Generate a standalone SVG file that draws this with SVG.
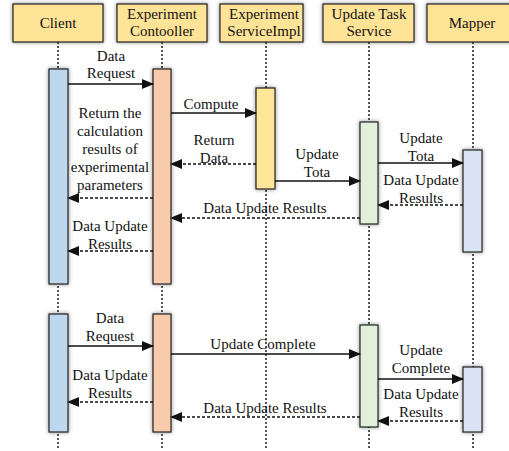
<svg xmlns="http://www.w3.org/2000/svg" width="509" height="451" viewBox="0 0 509 451">
<style>
text{font-family:"Liberation Serif","Times New Roman",serif;font-size:15px;fill:#111;text-anchor:middle}
.hd{fill:#FFE497;stroke:#222;stroke-width:1.2}
.life{stroke:#111;stroke-width:1.4;stroke-dasharray:2 2;fill:none}
.bar{stroke:#222;stroke-width:1.2}
.sol{stroke:#111;stroke-width:1.6;fill:none;marker-end:url(#ah)}
.dsh{stroke:#111;stroke-width:1.6;stroke-dasharray:3 2;fill:none;marker-end:url(#ah)}
</style>
<defs>
<filter id="sh" x="-30%" y="-30%" width="160%" height="160%">
<feDropShadow dx="0" dy="0" stdDeviation="2" flood-color="#000" flood-opacity="0.45"/>
</filter>
<marker id="ah" markerWidth="12" markerHeight="10" refX="11" refY="5" orient="auto" markerUnits="userSpaceOnUse">
<path d="M0,0 L12,5 L0,10 Z" fill="#111"/>
</marker>
</defs>
<rect width="509" height="451" fill="#fff"/>
<g id="lifelines">
<line class="life" x1="58" y1="42" x2="58" y2="450"/>
<line class="life" x1="162" y1="42" x2="162" y2="450"/>
<line class="life" x1="266" y1="42" x2="266" y2="450"/>
<line class="life" x1="369" y1="42" x2="369" y2="450"/>
<line class="life" x1="473" y1="42" x2="473" y2="450"/>
</g>
<g id="client">
<rect class="hd" x="13" y="4" width="90" height="38" filter="url(#sh)"/>
<text x="58" y="28">Client</text>
<rect class="bar" x="49" y="69" width="19" height="215" fill="#BDD7EE" filter="url(#sh)"/>
<rect class="bar" x="49" y="314" width="19" height="118" fill="#BDD7EE" filter="url(#sh)"/>
</g>
<g id="controller">
<rect class="hd" x="117" y="4" width="90" height="38" filter="url(#sh)"/>
<text x="162" y="19">Experiment</text>
<text x="162" y="36">Contooller</text>
<rect class="bar" x="153" y="69" width="18" height="215" fill="#F8CBAD" filter="url(#sh)"/>
<rect class="bar" x="153" y="314" width="18" height="118" fill="#F8CBAD" filter="url(#sh)"/>
</g>
<g id="serviceimpl">
<rect class="hd" x="220" y="4" width="83" height="38" filter="url(#sh)"/>
<text x="264" y="19">Experiment</text>
<text x="264" y="36">ServiceImpl</text>
<rect class="bar" x="256" y="88" width="19" height="101" fill="#FFE699" filter="url(#sh)"/>
</g>
<g id="updatetask">
<rect class="hd" x="323" y="4" width="91" height="38" filter="url(#sh)"/>
<text x="369" y="19">Update Task</text>
<text x="369" y="36">Service</text>
<rect class="bar" x="360" y="122" width="18" height="102" fill="#E2EFDA" filter="url(#sh)"/>
<rect class="bar" x="360" y="325" width="18" height="102" fill="#E2EFDA" filter="url(#sh)"/>
</g>
<g id="mapper">
<rect class="hd" x="427" y="4" width="85" height="38" filter="url(#sh)"/>
<text x="472" y="28">Mapper</text>
<rect class="bar" x="463" y="150" width="19" height="102" fill="#DAE3F3" filter="url(#sh)"/>
<rect class="bar" x="463" y="367" width="19" height="65" fill="#DAE3F3" filter="url(#sh)"/>
</g>
<g id="connectors">
<line class="sol" x1="68" y1="84" x2="153" y2="84"/>
<text x="111" y="61">Data</text><text x="111" y="78">Request</text>
<line class="sol" x1="171" y1="113" x2="256" y2="113"/>
<text x="211" y="109">Compute</text>
<line class="dsh" x1="256" y1="164" x2="171" y2="164"/>
<text x="214" y="145">Return</text><text x="214" y="163">Data</text>
<line class="dsh" x1="153" y1="198" x2="68" y2="198"/>
<text x="110" y="118">Return the</text><text x="110" y="136">calculation</text><text x="110" y="154">results of</text><text x="110" y="172">experimental</text><text x="110" y="190">parameters</text>
<line class="sol" x1="275" y1="181" x2="360" y2="181"/>
<text x="317" y="159">Update</text><text x="317" y="177">Tota</text>
<line class="sol" x1="378" y1="163" x2="463" y2="163"/>
<text x="421" y="143">Update</text><text x="421" y="161">Tota</text>
<line class="dsh" x1="463" y1="205" x2="378" y2="205"/>
<text x="421" y="185">Data Update</text><text x="421" y="203">Results</text>
<line class="dsh" x1="360" y1="218" x2="171" y2="218"/>
<text x="265" y="213">Data Update Results</text>
<line class="dsh" x1="153" y1="251" x2="68" y2="251"/>
<text x="110" y="231">Data Update</text><text x="110" y="249">Results</text>
<line class="sol" x1="68" y1="346" x2="153" y2="346"/>
<text x="110" y="323">Data</text><text x="110" y="341">Request</text>
<line class="sol" x1="171" y1="354" x2="360" y2="354"/>
<text x="263" y="349">Update Complete</text>
<line class="dsh" x1="153" y1="402" x2="68" y2="402"/>
<text x="110" y="380">Data Update</text><text x="110" y="398">Results</text>
<line class="sol" x1="378" y1="379" x2="463" y2="379"/>
<text x="421" y="355">Update</text><text x="421" y="373">Complete</text>
<line class="dsh" x1="463" y1="421" x2="378" y2="421"/>
<text x="421" y="399">Data Update</text><text x="421" y="417">Results</text>
<line class="dsh" x1="360" y1="417" x2="171" y2="417"/>
<text x="265" y="413">Data Update Results</text>
</g>
</svg>
